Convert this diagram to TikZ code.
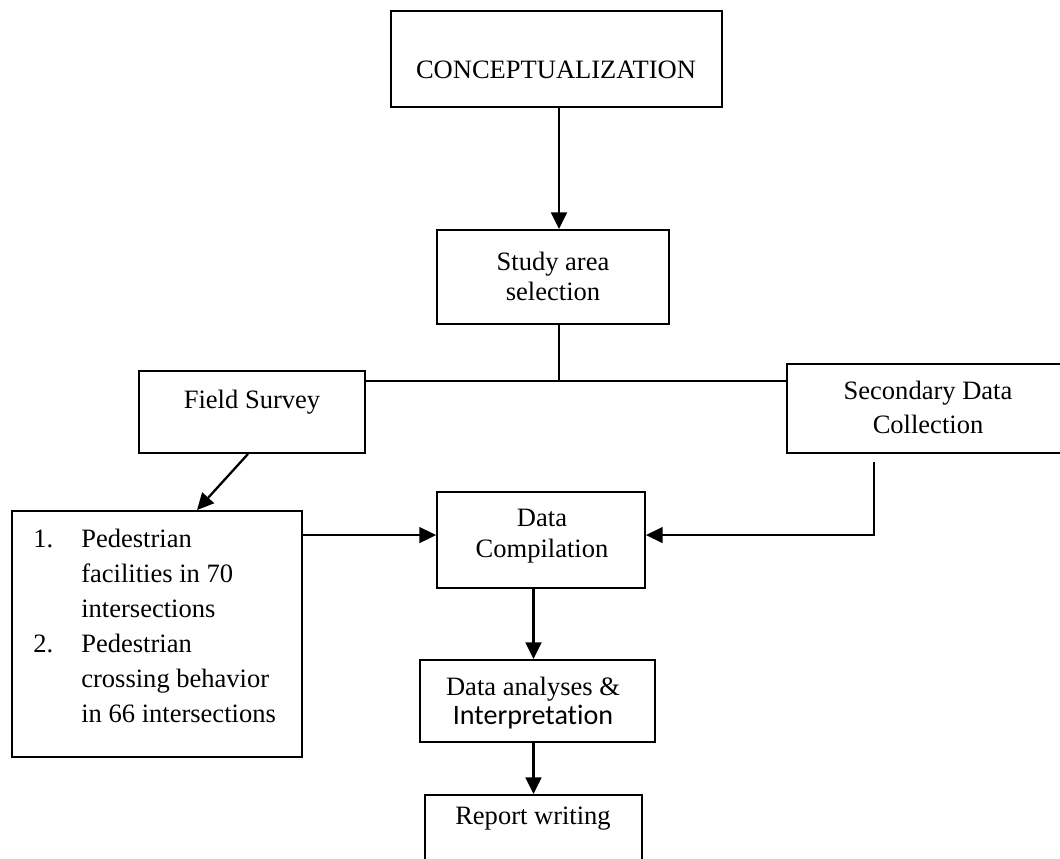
\documentclass[tikz,border=0pt]{standalone}
\usepackage{fontspec}
\setmainfont{Liberation Serif}
\newfontfamily\calibrifont[Ligatures=NoCommon]{Carlito}
\usetikzlibrary{positioning, arrows.meta, calc}

\begin{document}
\begin{tikzpicture}[
  x=0.02cm, y=-0.02cm,
  every node/.style={font=\fontsize{15.1}{17.6}\selectfont},
  box/.style={draw, line width=1.1pt, inner sep=0pt},
  txt/.style={align=center, inner sep=0pt},
  arr/.style={-{Triangle[length=9.5pt, width=9pt]}, line width=1.3pt},
  link/.style={line width=1.1pt}
]
  \useasboundingbox (0,0) rectangle (1060,858);

  % Boxes
  \node[box, minimum width=6.62cm, minimum height=1.92cm] (concept) at (556.5,59) {};
  \node[box, minimum width=4.64cm, minimum height=1.88cm] (study) at (553,277) {};
  \node[box, minimum width=4.52cm, minimum height=1.64cm] (field) at (252,412) {};
  \node[box, minimum width=5.66cm, minimum height=1.78cm] (secondary) at (928.5,408.5) {};
  \node[box, minimum width=5.8cm, minimum height=4.92cm] (list) at (157,634) {};
  \node[box, minimum width=4.16cm, minimum height=1.92cm] (comp) at (541,540) {};
  \node[box, minimum width=4.7cm, minimum height=1.64cm] (analyses) at (537.5,701) {};
  \node[box, minimum width=4.34cm, minimum height=1.7cm] (report) at (533.5,837.5) {};

  % Texts
  \node[txt, anchor=base] (conceptText) at (556,79) {CONCEPTUALIZATION};
  \node[txt, anchor=north, font=\fontsize{15.1}{17.1}\selectfont] (studyText) at (553,252) {Study area\\selection};
  \node[txt, anchor=base] (fieldText) at (252,408) {Field Survey};
  \node[txt, anchor=north, font=\fontsize{15.1}{19.3}\selectfont] (secondaryText) at (928,381) {Secondary Data\\Collection};
  \node[txt, anchor=north west, font=\fontsize{15.1}{19.9}\selectfont] (listText) at (33,522.5)
    {\begin{tabular}{@{}p{0.96cm}@{}l@{}}
      1. & Pedestrian\\
         & facilities in 70\\
         & intersections\\
      2. & Pedestrian\\
         & crossing behavior\\
         & in 66 intersections
    \end{tabular}};
  \node[txt, anchor=north] (compText) at (542,508.5) {Data\\Compilation};
  \node[txt, anchor=north, font=\fontsize{15.1}{16.6}\selectfont] (analysesText) at (533,677)
    {Data analyses \&\\{\calibrifont\fontsize{16}{16.6}\selectfont Interpretation}};
  \node[txt, anchor=base] (reportText) at (533,824) {Report writing};

  % Connectors
  \coordinate (fork) at (559,381);
  \draw[arr] (concept.south -| fork) -- (study.north -| fork);
  \draw[link] (study.south -| fork) -- (fork);
  \draw[link] (field.east |- fork) -- (secondary.west |- fork);
  \draw[arr] ($(field.south)+(-4,0)$) -- ($(list.north)+(40,0)$);
  \draw[arr] ($(list.north east)+(0,25)$) coordinate (lin) -- (comp.west |- lin);
  \draw[arr] ($(secondary.south)+(-54.5,8)$) |- (comp.east |- lin);
  \draw[arr] (comp.south -| report.north) -- (analyses.north -| report.north);
  \draw[arr] (analyses.south -| report.north) -- (report.north);
\end{tikzpicture}
\end{document}
